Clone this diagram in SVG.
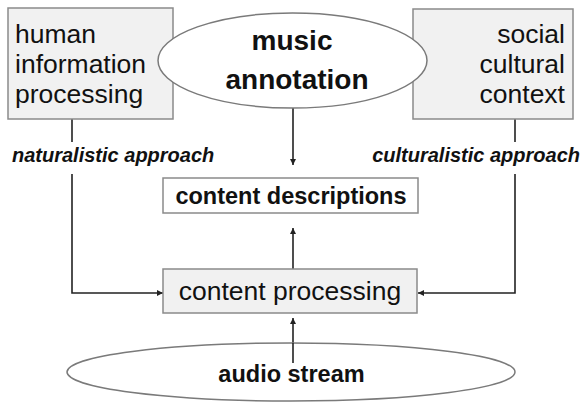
<svg xmlns="http://www.w3.org/2000/svg" width="583" height="403" viewBox="0 0 583 403">
<style>
.box{fill:#f1f1f1;stroke:#8a8a8a;stroke-width:1.5}
.wbox{fill:#ffffff;stroke:#8a8a8a;stroke-width:1.5}
.ell{fill:#ffffff;stroke:#7a7a7a;stroke-width:1.5}
.t{font-family:"Liberation Sans",Arial,sans-serif;fill:#111}
.b{font-weight:bold}
.lbl{font-family:"Liberation Sans",Arial,sans-serif;font-weight:bold;font-style:italic;font-size:20px;fill:#111}
.ln{fill:none;stroke:#222;stroke-width:1.6}
</style>
<defs>
<marker id="ah" viewBox="0 0 10 10" refX="10" refY="5" markerWidth="6" markerHeight="6" orient="auto" markerUnits="userSpaceOnUse">
<path d="M0,0 L10,5 L0,10 z" fill="#222"/>
</marker>
</defs>
<g id="connectors">
<line class="ln" x1="293" y1="108" x2="293" y2="165" marker-end="url(#ah)"/>
<line class="ln" x1="293" y1="269" x2="293" y2="228" marker-end="url(#ah)"/>
<line class="ln" x1="293" y1="363" x2="293" y2="318" marker-end="url(#ah)"/>
<line class="ln" x1="72" y1="119" x2="72" y2="142"/>
<polyline class="ln" points="72,174 72,293 163,293" marker-end="url(#ah)"/>
<line class="ln" x1="515" y1="119" x2="515" y2="142"/>
<polyline class="ln" points="515,174 515,293 418,293" marker-end="url(#ah)"/>
</g>
<g id="naturalistic-label"><text class="lbl" x="12" y="162">naturalistic approach</text></g>
<g id="culturalistic-label"><text class="lbl" x="580" y="162" text-anchor="end">culturalistic approach</text></g>
<g id="human-information-processing">
<rect class="box" x="8" y="8" width="165" height="111"/>
<text class="t" font-size="26.5" x="15" y="43">human</text>
<text class="t" font-size="26.5" x="15" y="73">information</text>
<text class="t" font-size="26.5" x="15" y="103">processing</text>
</g>
<g id="social-cultural-context">
<rect class="box" x="413" y="9" width="160" height="110"/>
<text class="t" font-size="26.5" x="565" y="43" text-anchor="end">social</text>
<text class="t" font-size="26.5" x="565" y="73" text-anchor="end">cultural</text>
<text class="t" font-size="26.5" x="565" y="103" text-anchor="end">context</text>
</g>
<g id="music-annotation">
<ellipse class="ell" cx="292.5" cy="60.5" rx="134.5" ry="47.5"/>
<text class="t b" font-size="28" x="292" y="50" text-anchor="middle">music</text>
<text class="t b" font-size="28" x="297" y="89" text-anchor="middle">annotation</text>
</g>
<g id="content-descriptions">
<rect class="wbox" x="163" y="178" width="255" height="35"/>
<text class="t b" font-size="23.5" x="291" y="204" text-anchor="middle">content descriptions</text>
</g>
<g id="content-processing">
<rect class="box" x="163" y="269" width="254" height="44"/>
<text class="t" font-size="26.5" x="290" y="300" text-anchor="middle">content processing</text>
</g>
<g id="audio-stream">
<ellipse class="ell" cx="291" cy="372" rx="224" ry="29"/>
<line class="ln" x1="293" y1="343" x2="293" y2="363"/>
<text class="t b" font-size="23.5" x="291.5" y="382" text-anchor="middle">audio stream</text>
</g>
</svg>
